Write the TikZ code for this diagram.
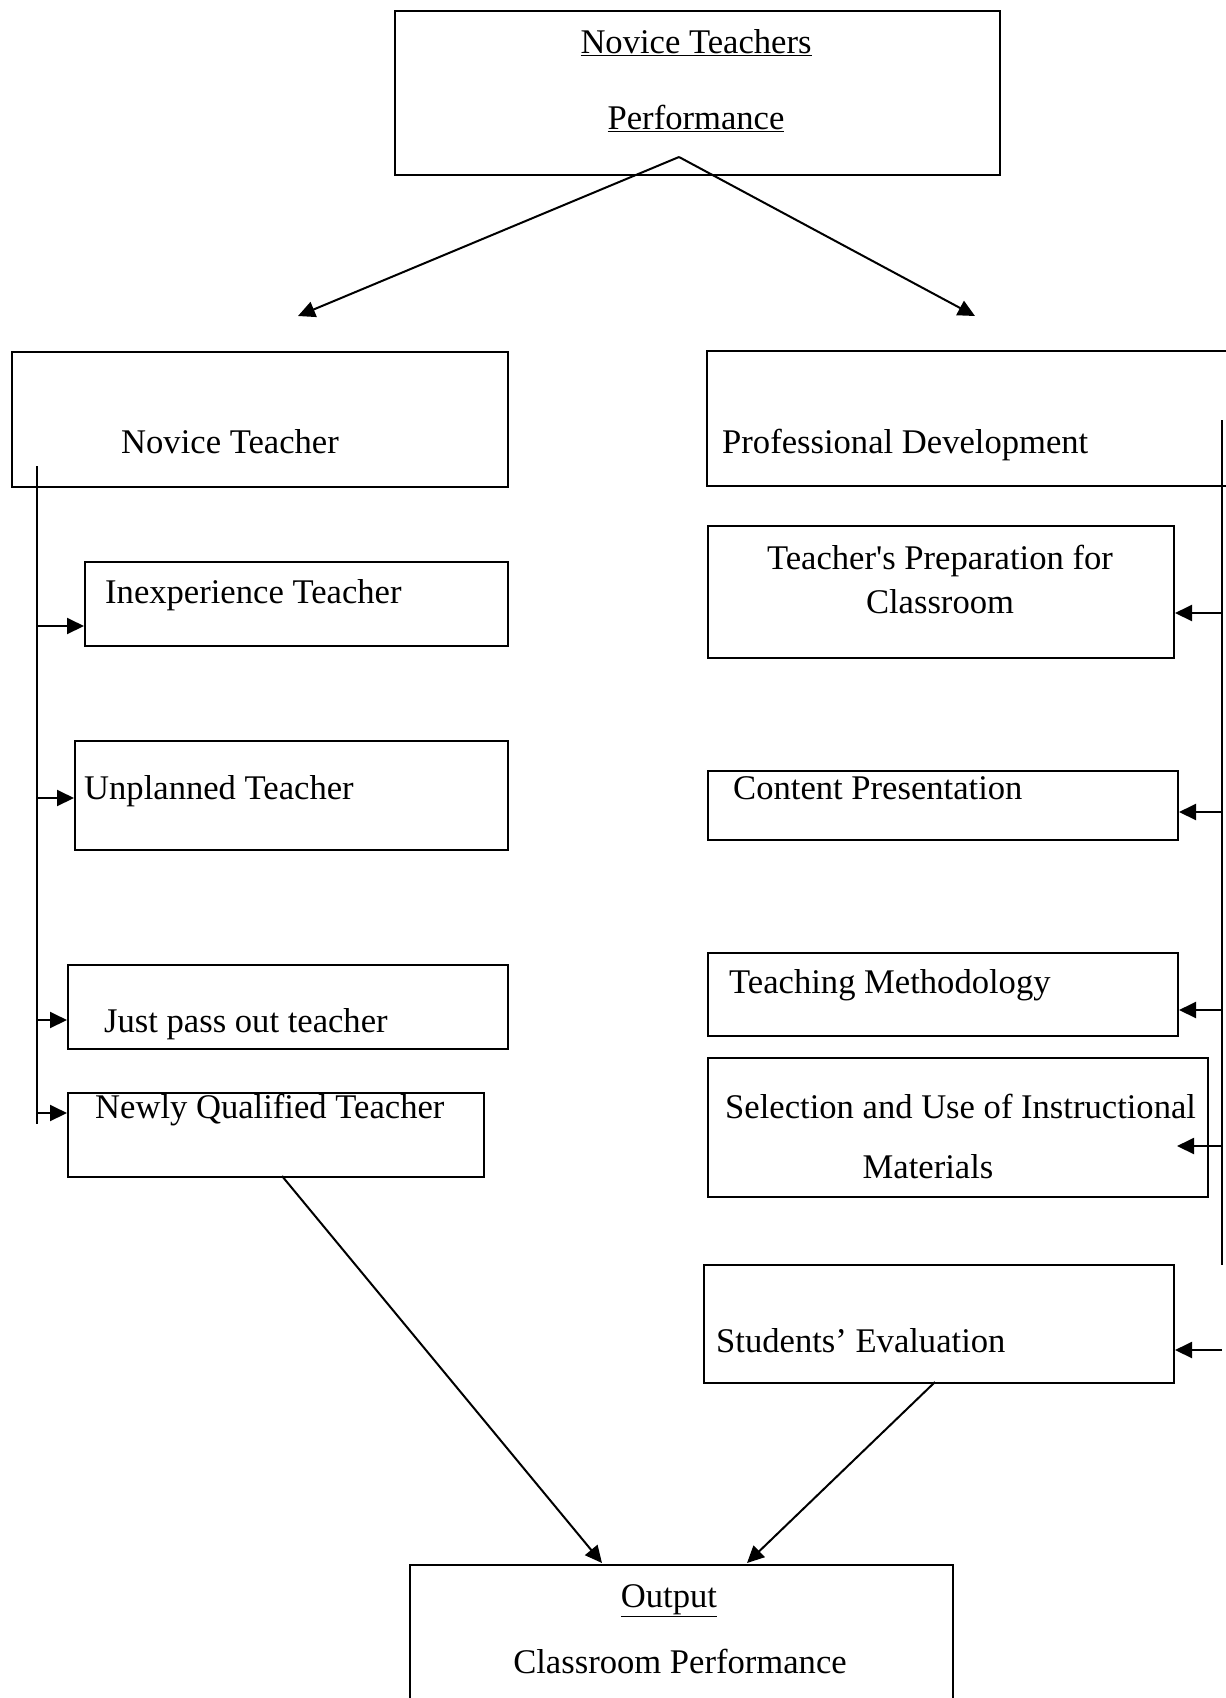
\documentclass[tikz,border=0pt]{standalone}
\usepackage{fontspec}
\setmainfont{Liberation Serif}
\usetikzlibrary{arrows.meta}
\begin{document}
\begin{tikzpicture}[x=1pt,y=-1pt,
  box/.style={draw, line width=2pt, inner sep=0pt, anchor=north west},
  txt/.style={inner sep=0pt, anchor=base west, font=\fontsize{34.6}{40}\selectfont},
  ctxt/.style={inner sep=0pt, anchor=base, font=\fontsize{34.6}{40}\selectfont},
  conn/.style={line width=2pt},
  arr/.style={line width=2pt, -{Triangle[length=17pt,width=16pt]}}]
\useasboundingbox[fill=white] (0,0) rectangle (1226,1698);
% boxes
\node[box, minimum width=605pt, minimum height=164pt] (top) at (394,10) {};
\node[box, minimum width=496pt, minimum height=135pt] (nt) at (11,351) {};
\coordinate (pdtr) at (1230,351);
\coordinate (pdtl) at (707,351);
\coordinate (pdbl) at (707,486);
\coordinate (pdbr) at (1230,486);
\draw[conn] (pdtr) -- (pdtl) -- (pdbl) -- (pdbr);
\node[box, minimum width=423pt, minimum height=84pt] (inexp) at (84,561) {};
\node[box, minimum width=433pt, minimum height=109pt] (unpl) at (74,740) {};
\node[box, minimum width=440pt, minimum height=84pt] (just) at (67,964) {};
\node[box, minimum width=416pt, minimum height=84pt] (newly) at (67,1092) {};
\node[box, minimum width=466pt, minimum height=132pt] (prep) at (707,525) {};
\node[box, minimum width=470pt, minimum height=69pt] (cont) at (707,770) {};
\node[box, minimum width=470pt, minimum height=83pt] (meth) at (707,952) {};
\node[box, minimum width=500pt, minimum height=139pt] (sel) at (707,1057) {};
\node[box, minimum width=470pt, minimum height=118pt] (stud) at (703,1264) {};
\node[box, minimum width=543pt, minimum height=160pt] (out) at (409,1564) {};
% texts
\node[ctxt] (t1) at (696,53) {\underline{Novice Teachers}};
\node[ctxt] (t2) at (696,129) {\underline{Performance}};
\node[txt] (t3) at (121,453) {Novice Teacher};
\node[txt] (t4) at (722,453) {Professional Development};
\node[txt] (t5) at (105,603) {Inexperience Teacher};
\node[txt] (t6) at (84,799) {Unplanned Teacher};
\node[txt] (t7) at (104,1032) {Just pass out teacher};
\node[txt] (t8) at (95,1118) {Newly Qualified Teacher};
\node[ctxt] (t9) at (940,569) {Teacher\XeTeXglyph\XeTeXcharglyph"0027 s Preparation for};
\node[ctxt] (t10) at (940,613) {Classroom};
\node[txt] (t11) at (733,799) {Content Presentation};
\node[txt] (t12) at (729,993) {Teaching Methodology};
\node[txt] (t13) at (725,1118) {Selection and Use of Instructional};
\node[ctxt] (t14) at (928,1178) {Materials};
\node[txt] (t15) at (716,1352) {Students’ Evaluation};
\node[ctxt] (t16) at (669,1607) {\underline{Output}};
\node[ctxt] (t17) at (680,1673) {Classroom Performance};
% top arrows
\coordinate (apex) at (679,157);
\coordinate (lt) at (298,316);
\coordinate (rt) at (975,316);
\draw[arr] (apex) -- (lt);
\draw[arr] (apex) -- (rt);
% left bus
\coordinate (lbtop) at (37,466);
\coordinate (lbbot) at (37,1124);
\draw[conn] (lbtop) -- (lbbot);
\coordinate (l1) at (37,626);
\coordinate (l2) at (37,798);
\coordinate (l3) at (37,1020);
\coordinate (l4) at (37,1113);
\draw[arr] (l1) -- (l1 -| inexp.west);
\draw[arr] (l2) -- (l2 -| unpl.west);
\draw[arr] (l3) -- (l3 -| just.west);
\draw[arr] (l4) -- (l4 -| newly.west);
% right bus
\coordinate (rbtop) at (1222,420);
\coordinate (rbbot) at (1222,1265);
\draw[conn] (rbtop) -- (rbbot);
\coordinate (r1) at (1222,613);
\coordinate (r2) at (1222,812);
\coordinate (r3) at (1222,1010);
\coordinate (r4) at (1222,1146);
\coordinate (r4e) at (1177,1146);
\coordinate (r5) at (1222,1350);
\draw[arr] (r1) -- (r1 -| prep.east);
\draw[arr] (r2) -- (r2 -| cont.east);
\draw[arr] (r3) -- (r3 -| meth.east);
\draw[arr] (r4) -- (r4e);
\draw[arr] (r5) -- (r5 -| stud.east);
% bottom arrows
\coordinate (nqs) at (282,1176);
\coordinate (nqe) at (602,1563);
\coordinate (ses) at (935,1382);
\coordinate (see) at (747,1563);
\draw[arr] (nqs) -- (nqe);
\draw[arr] (ses) -- (see);
\end{tikzpicture}
\end{document}
